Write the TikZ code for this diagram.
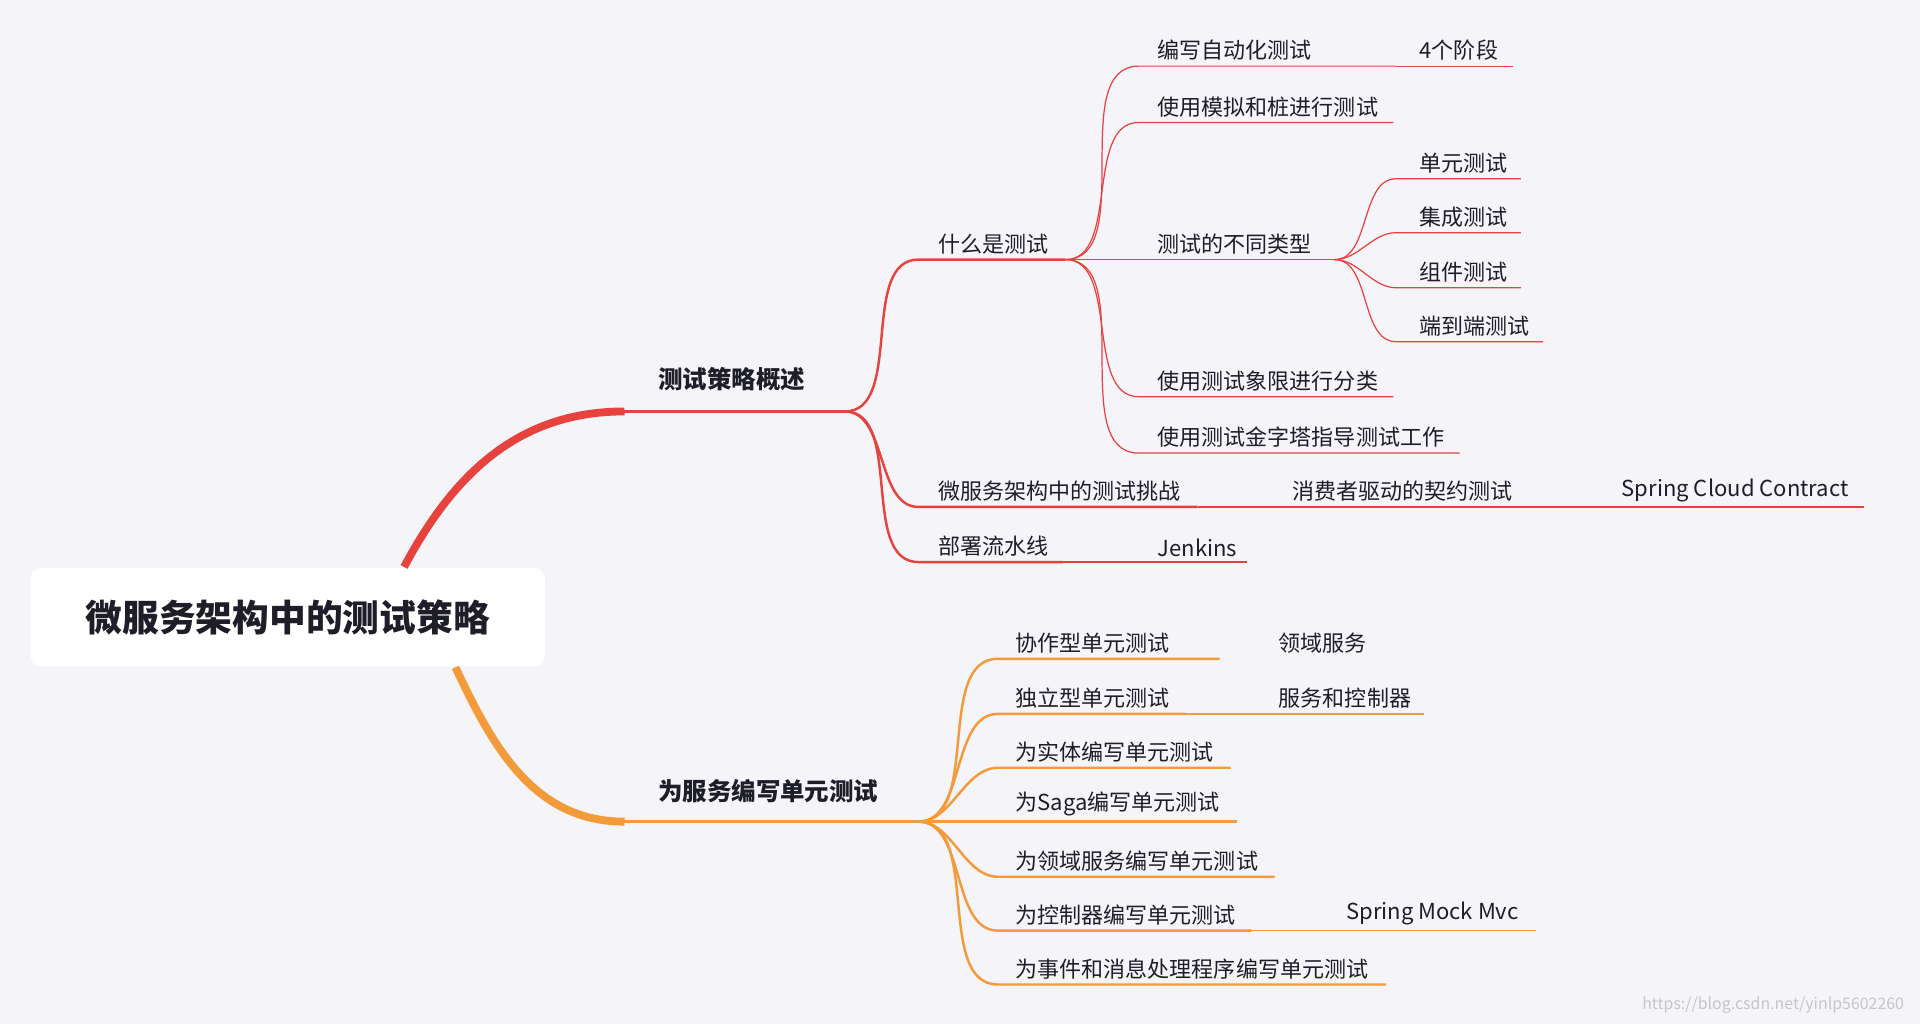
\documentclass[tikz,border=0pt]{standalone}
\usepackage{fontspec}
\setmainfont{Noto Sans CJK SC}
\definecolor{bg}{HTML}{F4F4F9}
\definecolor{rd}{HTML}{E8423F}
\definecolor{og}{HTML}{F39A3A}
\definecolor{tx}{HTML}{1E1E28}
\begin{document}
\begin{tikzpicture}[x=0.5pt,y=-0.5pt,
  lbl/.style={anchor=south west,inner sep=1pt,font=\fontsize{9}{10}\selectfont,text=tx},
  big/.style={anchor=south west,inner sep=1pt,font=\fontsize{10}{11}\selectfont\bfseries,text=tx},
  r1/.style={draw=rd,line width=1pt},
  r2/.style={draw=rd,line width=0.5pt},
  o1/.style={draw=og,line width=1pt},
  o2/.style={draw=og,line width=0.5pt},
  cv/.style={out=0,in=180,looseness=0.9}]
\fill[bg] (0,0) rectangle (1568,836);
\useasboundingbox (0,0) rectangle (1568,836);
% root
\node[fill=white,rounded corners=4pt,minimum width=210pt,minimum height=40pt,font=\fontsize{15}{16}\selectfont\bfseries,text=tx] (root) at (235,504) {微服务架构中的测试策略};
\coordinate (rt) at (330,463); \coordinate (rb) at (372,545);
\coordinate (a0) at (510,336); \coordinate (a1) at (690,336);
\coordinate (b0) at (510,671); \coordinate (b1) at (750,671);
\draw[rd,line width=3.2pt] (rt) to[out=62,in=180] (a0);
\draw[og,line width=3.2pt] (rb) to[out=-65,in=180] (b0);
\draw[rd,line width=1.2pt] (a0) -- (a1);
\draw[og,line width=1.2pt] (b0) -- (b1);
\node[big] (A) at (535,322) {测试策略概述};
\node[big] (B) at (535,658) {为服务编写单元测试};
% red level 2
\foreach \n/\y/\e in {c1/212/870,c2/414/978,c3/459/868}{
  \coordinate (\n s) at (750,\y); \coordinate (\n e) at (\e,\y);
  \draw[r1] (a1) to[cv] (\n s) -- (\n e);}
\node[lbl] (t1) at (764,210) {什么是测试};
\node[lbl] (t2) at (764,412) {微服务架构中的测试挑战};
\node[lbl] (t3) at (764,457) {部署流水线};
\coordinate (c2f) at (1522,414); \draw[r2] (c2e) -- (c2f);
\node[lbl] (t2a) at (1053,412) {消费者驱动的契约测试};
\node[lbl] (t2b) at (1322,412) {Spring Cloud Contract};
\coordinate (c3f) at (1018,459); \draw[r2] (c3e) -- (c3f);
\node[lbl] (t3a) at (943,457) {Jenkins};
% level 3 under 什么是测试
\foreach \n/\y/\e in {d1/54/1140,d2/100/1138,d3/212/1090,d4/324/1138,d5/370/1192}{
  \coordinate (\n s) at (930,\y); \coordinate (\n e) at (\e,\y);
  \draw[r2] (c1e) to[cv] (\n s) -- (\n e);}
\node[lbl] (u1) at (943,52) {编写自动化测试};
\node[lbl] (u2) at (943,98) {使用模拟和桩进行测试};
\node[lbl] (u3) at (943,210) {测试的不同类型};
\node[lbl] (u4) at (943,322) {使用测试象限进行分类};
\node[lbl] (u5) at (943,368) {使用测试金字塔指导测试工作};
\coordinate (d1f) at (1236,54); \draw[r2] (d1e) -- (d1f);
\node[lbl] (u1a) at (1157,52) {4个阶段};
\foreach \n/\y/\e/\t in {g1/146/1242/单元测试,g2/190/1242/集成测试,g3/235/1242/组件测试,g4/279/1260/端到端测试}{
  \coordinate (\n s) at (1140,\y); \coordinate (\n e) at (\e,\y);
  \draw[r2] (d3e) to[cv] (\n s) -- (\n e);
  \node[lbl] (\n t) at (1157,\y-2) {\t};}
% orange level 2
\foreach \n/\y/\e/\t in {h1/538/996/协作型单元测试,h2/583/968/独立型单元测试,h3/627/1005/为实体编写单元测试,h4/671/1010/为Saga编写单元测试,h5/716/1041/为领域服务编写单元测试,h6/760/1022/为控制器编写单元测试,h7/804/1132/为事件和消息处理程序编写单元测试}{
  \coordinate (\n s) at (815,\y); \coordinate (\n e) at (\e,\y);
  \draw[o1] (b1) to[cv] (\n s) -- (\n e);
  \node[lbl] (\n t) at (827,\y-2) {\t};}
\node[lbl] (h1a) at (1042,536) {领域服务};
\coordinate (h2f) at (1163,583); \draw[o2] (h2e) -- (h2f);
\node[lbl] (h2a) at (1042,581) {服务和控制器};
\coordinate (h6f) at (1254,760); \draw[o2] (h6e) -- (h6f);
\node[lbl] (h6a) at (1097,758) {Spring Mock Mvc};
\node[anchor=east,font=\fontsize{6.5}{7}\selectfont,text=gray!45] (wm) at (1562,821) {https://blog.csdn.net/yinlp5602260};
\end{tikzpicture}
\end{document}
